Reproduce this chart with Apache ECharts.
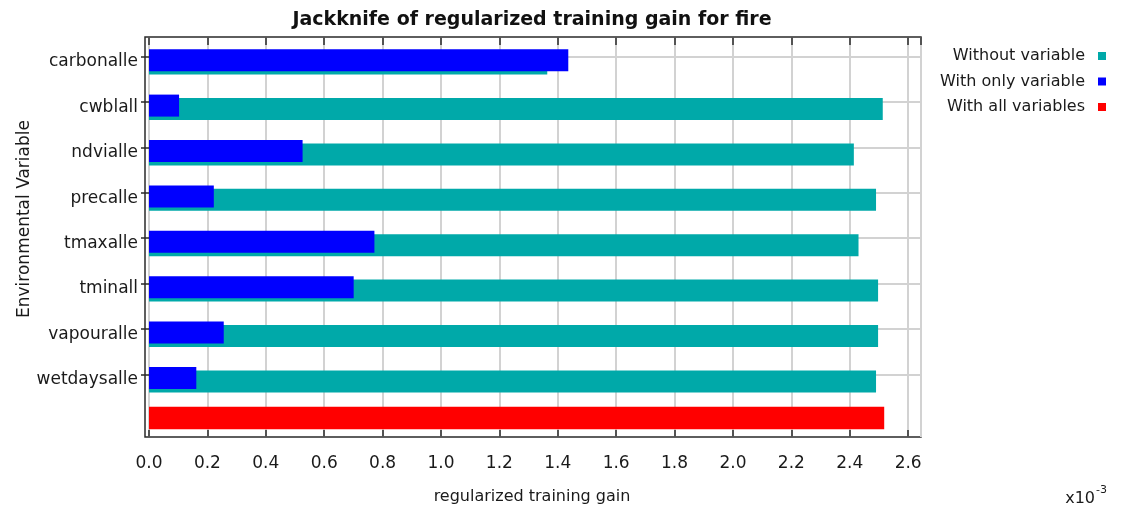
<!DOCTYPE html>
<html>
<head>
<meta charset="utf-8">
<title>Jackknife of regularized training gain for fire</title>
<script src="https://cdn.jsdelivr.net/npm/echarts@6/dist/echarts.min.js"></script>
<style>
  html, body { margin: 0; padding: 0; background: #ffffff; }
  #chart { width: 1121px; height: 510px; }
</style>
</head>
<body>
<div id="chart"></div>
<script>
// Environmental variables, listed top to bottom
const variables = ['carbonalle', 'cwblall', 'ndvialle', 'precalle', 'tmaxalle', 'tminall', 'vapouralle', 'wetdaysalle'];
// Regularized training gain (x10^-3)
const withoutVariable  = [1.364, 2.513, 2.414, 2.490, 2.430, 2.497, 2.497, 2.490];
const withOnlyVariable = [1.436, 0.103, 0.526, 0.222, 0.772, 0.701, 0.256, 0.162];
const withAllVariables = [2.518];
// Gain axis ticks
const gainMin = 0;
const gainMax = 2.644;
const gainStep = 0.2;

const seriesNames = ['Without variable', 'With only variable', 'With all variables'];
const colors = { without: '#00a9a9', only: '#0000ff', all: '#ff0000' };

const FONT = '"DejaVu Sans", "Liberation Sans", sans-serif';
const TEXT = '#1a1a1a';
const GRIDLINE = '#d2d2d2';
const FRAME = '#2a2a2a';

const L = 149, R = 200;   // shared horizontal extent of the value scale

function hiddenX(gridIndex) {
  return { type: 'value', gridIndex, min: gainMin, max: gainMax, show: false };
}

const chart = echarts.init(document.getElementById('chart'), null, { renderer: 'canvas' });

chart.setOption({
  animation: false,
  backgroundColor: '#ffffff',
  textStyle: { fontFamily: FONT },
  grid: [
    // 0: plot frame
    { left: 145, right: R, top: 37, bottom: 73, show: true, borderColor: FRAME, borderWidth: 1.5, backgroundColor: 'transparent' },
    // 1: gain scale (ticks, labels, vertical grid lines)
    { left: L, right: R, top: 37, bottom: 73 },
    // 2: paired bars per variable
    { left: L, right: R, top: 39.2, bottom: 107.6 },
    // 3: horizontal grid lines and right-hand ticks
    { left: L, right: R, top: 56.7, bottom: 135.7 },
    // 4: all-variables bar
    { left: L, right: R, top: 406.7, bottom: 80.7 }
  ],
  xAxis: [
    { type: 'value', gridIndex: 0, min: 0, max: 1, show: false },
    {
      type: 'value', gridIndex: 1, position: 'bottom',
      min: gainMin, max: gainMax, interval: gainStep,
      axisLine: { show: false },
      axisTick: { show: true, inside: true, length: 7, lineStyle: { color: FRAME, width: 1.5 } },
      axisLabel: {
        show: true, margin: 18, color: TEXT, fontSize: 17, fontFamily: FONT,
        showMaxLabel: false,
        formatter: v => v.toFixed(1)
      },
      splitLine: { show: true, lineStyle: { color: GRIDLINE, width: 2 } }
    },
    {
      type: 'value', gridIndex: 1, position: 'top',
      min: gainMin, max: gainMax, interval: gainStep,
      axisLine: { show: false },
      axisTick: { show: true, inside: true, length: 8, lineStyle: { color: FRAME, width: 1.5 } },
      axisLabel: { show: false },
      splitLine: { show: false }
    },
    hiddenX(2),
    hiddenX(3),
    hiddenX(4)
  ],
  yAxis: [
    { type: 'value', gridIndex: 0, show: false },
    { type: 'value', gridIndex: 1, show: false },
    {
      type: 'category', gridIndex: 2, data: variables, inverse: true,
      position: 'left', offset: 4,
      axisLine: { show: false },
      axisTick: { show: true, inside: true, length: 5, alignWithLabel: true, lineStyle: { color: FRAME, width: 1.5 } },
      axisLabel: { show: true, margin: 7, color: TEXT, fontSize: 17, fontFamily: FONT },
      splitLine: { show: false }
    },
    {
      type: 'category', gridIndex: 3, data: variables, inverse: true,
      boundaryGap: false, position: 'right',
      axisLine: { show: false },
      axisTick: { show: true, inside: true, length: 8, lineStyle: { color: FRAME, width: 1.5 } },
      axisLabel: { show: false },
      splitLine: { show: true, lineStyle: { color: GRIDLINE, width: 2 } }
    },
    { type: 'category', gridIndex: 4, data: ['all'], show: false }
  ],
  legend: {
    orient: 'vertical',
    right: 10, top: 42,
    align: 'right',
    itemWidth: 8, itemHeight: 8, itemGap: 7.5,
    icon: 'rect',
    data: seriesNames,
    textStyle: { color: TEXT, fontSize: 16, fontFamily: FONT, lineHeight: 18, padding: [0, 8, 0, 0] }
  },
  series: [
    {
      name: seriesNames[1], type: 'bar',
      xAxisIndex: 3, yAxisIndex: 2,
      data: withOnlyVariable,
      barWidth: 22, barGap: '-84.5%',
      itemStyle: { color: colors.only },
      z: 4
    },
    {
      name: seriesNames[0], type: 'bar',
      xAxisIndex: 3, yAxisIndex: 2,
      data: withoutVariable,
      barWidth: 22, barGap: '-84.5%',
      itemStyle: { color: colors.without },
      z: 3
    },
    {
      name: seriesNames[2], type: 'bar',
      xAxisIndex: 5, yAxisIndex: 4,
      data: withAllVariables,
      barWidth: 22.6,
      itemStyle: { color: colors.all },
      z: 3
    }
  ],
  graphic: [
    {
      type: 'text', x: 532, y: 20.5, silent: true,
      style: { text: 'Jackknife of regularized training gain for fire', font: 'bold 19px ' + FONT, fill: '#111', textAlign: 'center', textVerticalAlign: 'middle' }
    },
    {
      type: 'text', x: 532, y: 497, silent: true,
      style: { text: 'regularized training gain', font: '16px ' + FONT, fill: TEXT, textAlign: 'center', textVerticalAlign: 'middle' }
    },
    {
      type: 'text', x: 25, y: 219, rotation: Math.PI / 2, silent: true,
      style: { text: 'Environmental Variable', font: '17px ' + FONT, fill: TEXT, textAlign: 'center', textVerticalAlign: 'middle' }
    },
    {
      type: 'text', x: 1095, y: 499, silent: true,
      style: { text: 'x10', font: '16px ' + FONT, fill: TEXT, textAlign: 'right', textVerticalAlign: 'middle' }
    },
    {
      type: 'text', x: 1096, y: 490, silent: true,
      style: { text: '-3', font: '11px ' + FONT, fill: TEXT, textAlign: 'left', textVerticalAlign: 'middle' }
    }
  ]
});
</script>
</body>
</html>
